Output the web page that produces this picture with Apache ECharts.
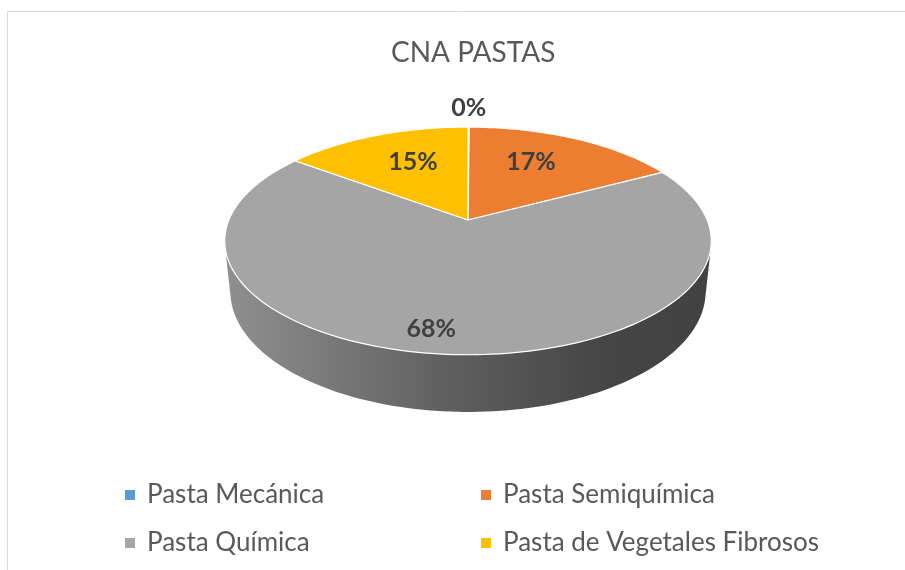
<!DOCTYPE html>
<html>
<head>
<meta charset="utf-8">
<script src="https://cdn.jsdelivr.net/npm/echarts@6/dist/echarts.min.js"></script>
<style>
  html, body { margin: 0; padding: 0; background: #fff; }
  #main { width: 905px; height: 570px; }
</style>
</head>
<body>
<div id="main"></div>
<script>
// data
var categories = ['Pasta Mecánica', 'Pasta Semiquímica', 'Pasta Química', 'Pasta de Vegetales Fibrosos'];
var values = [0.1, 17.1, 67.9, 14.8];
var colors = ['#5B9BD5', '#ED7D31', '#A5A5A5', '#FFC000'];
// percent label placement: share of the radius, and turn (degrees) off the mid angle
var labelRadius = [1.25, 0.65, 0.85, 0.64];
var labelShift = [0, -4.5, 4.5, 3.2];

// 3d look (excel style tilted pie with perspective)
var CX = 468, CY = 220, F = 1155, DIST = 4.83;
var COS_A = 0.887, SIN_A = 0.46, DEPTH = 0.241;

var total = values.reduce(function (a, b) { return a + b; }, 0);
var angles = [];
var acc = 0;
values.forEach(function (v) {
    var a0 = acc / total * Math.PI * 2;
    acc += v;
    angles.push([a0, acc / total * Math.PI * 2]);
});

// phi: clockwise from the back of the pie, r: share of radius, h: height (0 = top)
function project(phi, r, h) {
    var x = r * Math.sin(phi), z = -r * Math.cos(phi);
    var dist = DIST - (h * SIN_A + z * COS_A);
    return [CX + x * F / dist, CY - (h * COS_A - z * SIN_A) * F / dist];
}

function arc(a0, a1, h) {
    var pts = [];
    var n = Math.max(2, Math.ceil((a1 - a0) / (Math.PI / 120)));
    for (var k = 0; k <= n; k++) {
        pts.push(project(a0 + (a1 - a0) * k / n, 1, h));
    }
    return pts;
}

function shade(hex, f) {
    var c = echarts.color.parse(hex);
    return 'rgb(' + Math.round(c[0] * f) + ',' + Math.round(c[1] * f) + ',' + Math.round(c[2] * f) + ')';
}

// visible part of the side wall
var visLimit = Math.acos(-1 / (DIST * COS_A));

function renderTop(i) {
    return function (params, api) {
        var a = angles[i];
        var pts = [project(0, 0, 0)].concat(arc(a[0], a[1], 0));
        var mid = (a[0] + a[1]) / 2 + labelShift[i] * Math.PI / 180;
        var lp = project(mid, labelRadius[i], 0);
        return {
            type: 'group',
            children: [{
                type: 'polygon',
                shape: { points: pts },
                style: { fill: colors[i], stroke: '#ffffff', lineWidth: 1.2 }
            }, {
                type: 'text',
                x: lp[0],
                y: lp[1],
                z2: 10,
                style: {
                    text: Math.round(values[i] / total * 100) + '%',
                    fill: '#404040',
                    font: 'bold 25px Lato',
                    align: 'center',
                    verticalAlign: 'middle'
                }
            }]
        };
    };
}

function renderSide(params, api) {
    var i = params.dataIndex;
    var b0 = Math.max(angles[i][0], visLimit);
    var b1 = Math.min(angles[i][1], Math.PI * 2 - visLimit);
    if (b1 <= b0) return null;
    var pts = arc(b0, b1, 0).concat(arc(b0, b1, -DEPTH).reverse());
    return {
        type: 'polygon',
        shape: { points: pts },
        style: {
            fill: new echarts.graphic.LinearGradient(225, 0, 712, 0, [
                { offset: 0, color: shade(colors[i], 0.87) },
                { offset: 0.45, color: shade(colors[i], 0.58) },
                { offset: 0.78, color: shade(colors[i], 0.42) },
                { offset: 1, color: shade(colors[i], 0.4) }
            ], true)
        }
    };
}

var series = categories.map(function (name, i) {
    return {
        name: name,
        type: 'custom',
        coordinateSystem: 'none',
        z: 3,
        itemStyle: { color: colors[i] },
        renderItem: renderTop(i),
        data: [values[i]]
    };
});
series.push({
    name: 'lado',
    type: 'custom',
    coordinateSystem: 'none',
    z: 1,
    silent: true,
    renderItem: renderSide,
    data: values
});

var legendPos = [[120, 477], [476, 477], [120, 525], [476, 525]];
var legends = categories.map(function (name, i) {
    return {
        data: [name],
        left: legendPos[i][0],
        top: legendPos[i][1],
        icon: 'rect',
        itemWidth: 10,
        itemHeight: 10,
        itemGap: 0,
        selectedMode: false,
        textStyle: { color: '#595959', fontSize: 26, fontFamily: 'Lato', padding: [0, 0, 0, 7] }
    };
});

var myChart = echarts.init(document.getElementById('main'), null, { renderer: 'canvas' });
var option = {
    animation: false,
    color: colors,
    title: {
        text: 'CNA PASTAS',
        left: 386,
        top: 34,
        textStyle: { color: '#595959', fontSize: 28, fontWeight: 'normal', fontFamily: 'Lato' }
    },
    graphic: [{
        type: 'rect',
        shape: { x: 7.5, y: 11.5, width: 940, height: 600 },
        style: { fill: 'none', stroke: '#d9d9d9', lineWidth: 1 },
        silent: true
    }],
    legend: legends,
    series: series
};
myChart.setOption(option);
</script>
</body>
</html>
